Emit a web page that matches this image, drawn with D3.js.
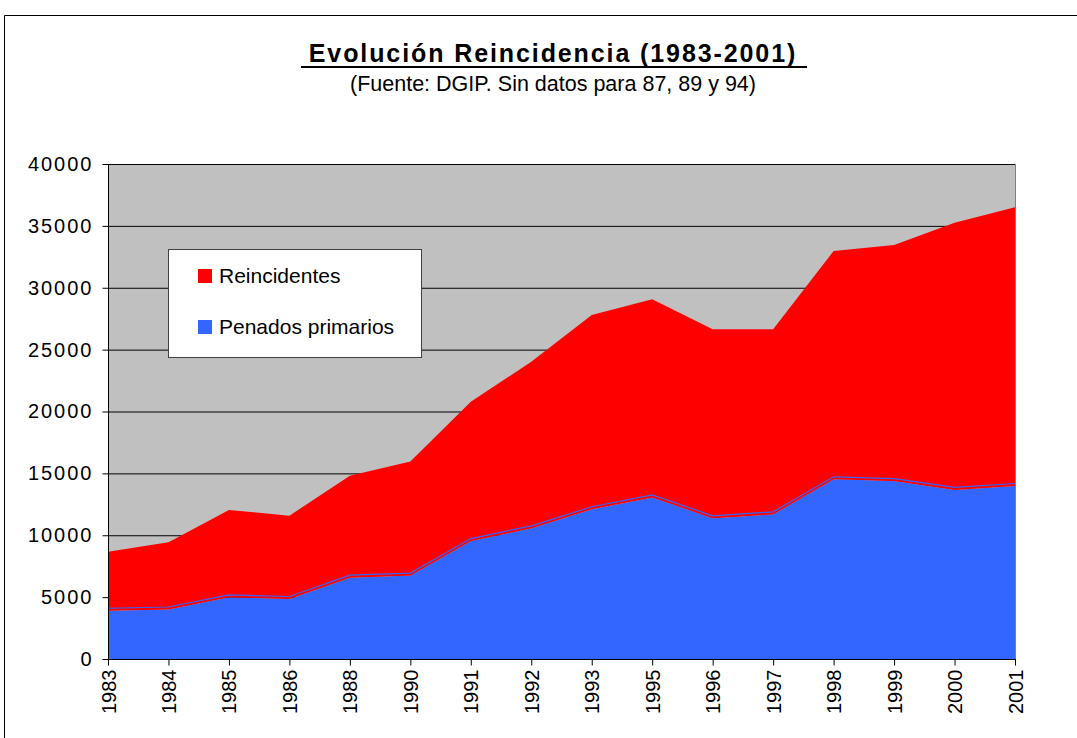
<!DOCTYPE html>
<html>
<head>
<meta charset="utf-8">
<script src="https://cdn.jsdelivr.net/npm/d3@7"></script>
<style>
    body { margin: 0; background: #fff; }
    svg { font-family: "Liberation Sans", Arial, sans-serif; }
</style>
</head>
<body>
<svg width="1077" height="738"></svg>
<script>
// datos
var years = ["1983", "1984", "1985", "1986", "1988", "1990", "1991", "1992",
             "1993", "1995", "1996", "1997", "1998", "1999", "2000", "2001"];
var primarios = [3900, 4000, 4980, 4850, 6570, 6740, 9530, 10560,
                 12100, 13060, 11370, 11690, 14520, 14380, 13660, 13980];
var reincidentes = [4770, 5430, 7060, 6730, 8240, 9220, 11260, 13460,
                    15700, 16010, 15270, 14950, 18450, 19070, 21600, 22520];
var yTicks = [0, 5000, 10000, 15000, 20000, 25000, 30000, 35000, 40000];

var svg = d3.select("svg"),
    pLeft = 108, pRight = 1015, pTop = 164, pBottom = 659;

// marco exterior
svg.append("path")
    .attr("d", "M4.5,738V15.5H1077")
    .attr("fill", "none")
    .attr("stroke", "#000");

var x = d3.scalePoint().domain(years).range([pLeft, pRight]);
var y = d3.scaleLinear().domain([0, 40000]).range([pBottom, pTop]);

var data = years.map(function(d, i) {
    return { year: d, primarios: primarios[i], reincidentes: reincidentes[i] };
});
var series = d3.stack().keys(["primarios", "reincidentes"])(data);

svg.append("rect")
    .attr("x", pLeft).attr("y", pTop)
    .attr("width", pRight - pLeft).attr("height", pBottom - pTop)
    .attr("fill", "#c0c0c0");

// lineas de la rejilla
svg.append("g")
    .selectAll("line")
    .data(yTicks.slice(1))
    .enter().append("line")
    .attr("x1", pLeft).attr("x2", pRight)
    .attr("y1", function(d) { return y(d) + 0.5; })
    .attr("y2", function(d) { return y(d) + 0.5; })
    .attr("stroke", "#000");

var area = d3.area()
    .x(function(d) { return x(d.data.year); })
    .y0(function(d) { return y(d[0]); })
    .y1(function(d) { return y(d[1]); });

var colors = ["#3366ff", "#ff0000"];

svg.append("g")
    .selectAll("path")
    .data(series)
    .enter().append("path")
    .attr("d", area)
    .attr("fill", function(d, i) { return colors[i]; });

// borde entre las dos areas
var edge = d3.line()
    .x(function(d) { return x(d.data.year); })
    .y(function(d) { return y(d[1]); });

svg.append("path")
    .datum(series[0])
    .attr("d", edge)
    .attr("fill", "none")
    .attr("stroke", "#ff0000")
    .attr("stroke-width", 1.2)
    .attr("transform", "translate(0,-1)");

svg.append("path")
    .datum(series[0])
    .attr("d", edge)
    .attr("fill", "none")
    .attr("stroke", "#3366ff")
    .attr("stroke-width", 1.2)
    .attr("transform", "translate(0,-2.5)");

// borde derecho del area de trazado
svg.append("line")
    .attr("x1", pRight + 0.5).attr("x2", pRight + 0.5)
    .attr("y1", pTop).attr("y2", pBottom)
    .attr("stroke", "#808080");

// ejes
var yAxis = svg.append("g")
    .attr("transform", "translate(" + (pLeft + 0.5) + ",0)")
    .call(d3.axisLeft(y).tickValues(yTicks).tickSize(6).tickPadding(9).tickFormat(d3.format("d")));

var xAxis = svg.append("g")
    .attr("transform", "translate(0," + (pBottom + 0.5) + ")")
    .call(d3.axisBottom(x).tickSize(6).tickSizeOuter(0));

yAxis.select(".domain").attr("stroke", "#000").attr("d", "M0," + pTop + "V" + pBottom);
yAxis.selectAll("text")
    .style("font-size", "20px")
    .style("letter-spacing", "2px")
    .attr("fill", "#000");

xAxis.select(".domain").attr("d", "M" + (pLeft - 1) + ",0H" + (pRight + 1));
xAxis.selectAll("text")
    .style("font-size", "20px")
    .attr("fill", "#000")
    .attr("text-anchor", "end")
    .attr("transform", "rotate(-90)")
    .attr("x", -10)
    .attr("y", 0)
    .attr("dy", "0.35em");

// leyenda
var legend = svg.append("g");
legend.append("rect")
    .attr("x", 168.5).attr("y", 249.5)
    .attr("width", 253).attr("height", 108)
    .attr("fill", "#fff")
    .attr("stroke", "#404040");

var legendItems = [
    { name: "Reincidentes", color: colors[1], y: 276 },
    { name: "Penados primarios", color: colors[0], y: 327 }
];
var li = legend.selectAll("g.item")
    .data(legendItems)
    .enter().append("g")
    .attr("class", "item");
li.append("rect")
    .attr("x", 198).attr("y", function(d) { return d.y - 7; })
    .attr("width", 14).attr("height", 14)
    .attr("fill", function(d) { return d.color; });
li.append("text")
    .attr("x", 219).attr("y", function(d) { return d.y; })
    .attr("dy", "0.35em")
    .style("font-size", "21px")
    .text(function(d) { return d.name; });

// titulo
svg.append("text")
    .attr("x", 553).attr("y", 62)
    .attr("text-anchor", "middle")
    .style("font-size", "25px")
    .style("font-weight", "bold")
    .style("letter-spacing", "1.9px")
    .text("Evolución Reincidencia (1983-2001)");
svg.append("line")
    .attr("x1", 301).attr("x2", 807)
    .attr("y1", 67).attr("y2", 67)
    .attr("stroke", "#000")
    .attr("stroke-width", 2);
svg.append("text")
    .attr("x", 553).attr("y", 91)
    .attr("text-anchor", "middle")
    .style("font-size", "21.5px")
    .text("(Fuente: DGIP. Sin datos para 87, 89 y 94)");
</script>
</body>
</html>
